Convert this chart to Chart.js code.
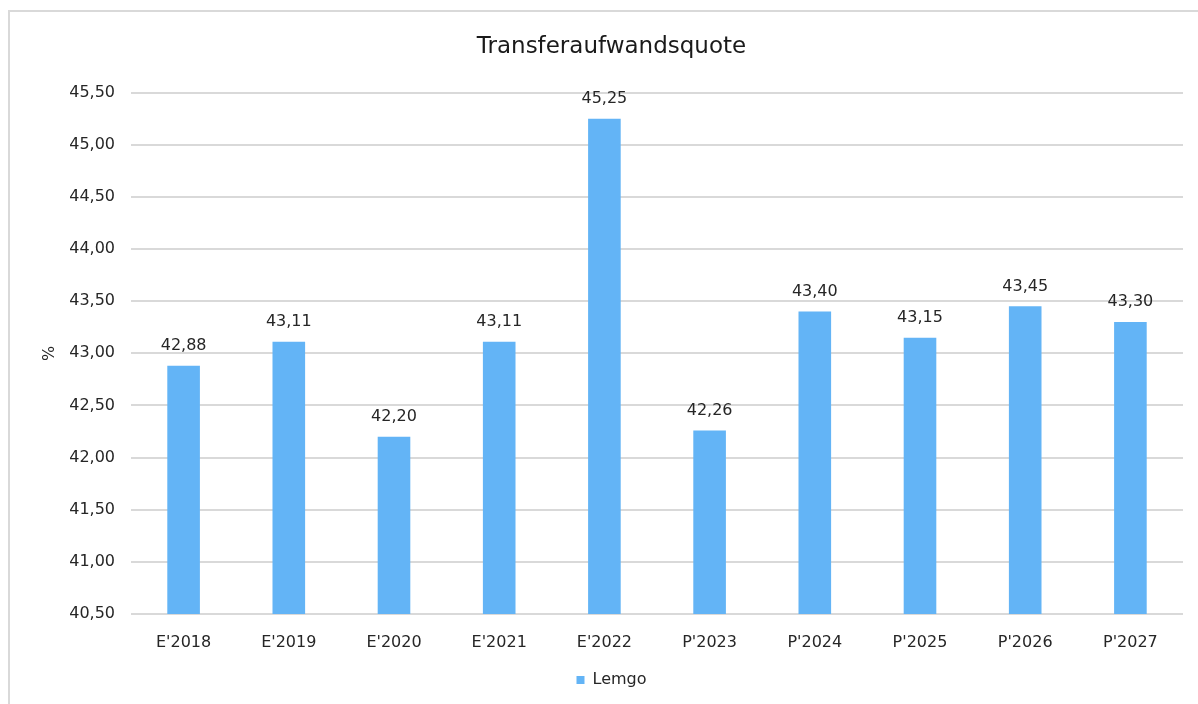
<!DOCTYPE html>
<html>
<head>
<meta charset="utf-8">
<script src="https://cdn.jsdelivr.net/npm/chart.js@4/dist/chart.umd.min.js"></script>
<style>
  html, body { margin: 0; padding: 0; background: #fff; overflow: hidden; }
  #frame { position: absolute; left: 8px; top: 10px; width: 1200px; height: 720px; border: 2px solid #d9d9d9; }
  #wrap { position: absolute; left: 0; top: 0; width: 1198px; height: 704px; }
</style>
</head>
<body>
<div id="frame"></div>
<div id="wrap"><canvas id="chart" width="1198" height="704"></canvas></div>
<script>
const categories = ["E'2018", "E'2019", "E'2020", "E'2021", "E'2022", "P'2023", "P'2024", "P'2025", "P'2026", "P'2027"];
const lemgo = [42.88, 43.11, 42.20, 43.11, 45.25, 42.26, 43.40, 43.15, 43.45, 43.30];
const yMin = 40.5;
const yMax = 45.5;
const yStep = 0.5;

const fmt = v => v.toFixed(2).replace(".", ",");

// value labels above the bars
const barLabels = {
  id: "barLabels",
  afterDatasetsDraw(chart) {
    const ctx = chart.ctx;
    ctx.save();
    ctx.font = "16px 'DejaVu Sans'";
    ctx.fillStyle = "#262626";
    ctx.textAlign = "center";
    ctx.textBaseline = "middle";
    chart.getDatasetMeta(0).data.forEach((bar, i) => {
      ctx.fillText(fmt(lemgo[i]), bar.x, bar.y - 20);
    });
    ctx.restore();
  }
};

Chart.defaults.font.family = "'DejaVu Sans'";
Chart.defaults.font.size = 16;
Chart.defaults.color = "#404040";

new Chart(document.getElementById("chart"), {
  type: "bar",
  data: {
    labels: categories,
    datasets: [{
      label: "Lemgo",
      data: lemgo,
      backgroundColor: "#63b4f6",
      borderWidth: 0,
      categoryPercentage: 1.0,
      barPercentage: 0.31
    }]
  },
  options: {
    responsive: false,
    animation: false,
    layout: { padding: { left: 40, right: 15, top: 0, bottom: 6 } },
    plugins: {
      title: {
        display: true,
        text: "Transferaufwandsquote",
        color: "#1a1a1a",
        font: { size: 23, weight: "normal" },
        padding: { top: 33, bottom: 32 }
      },
      legend: {
        position: "bottom",
        labels: { boxWidth: 8, boxHeight: 8, padding: 10, color: "#262626" }
      },
      tooltip: { enabled: false }
    },
    scales: {
      x: {
        grid: { display: false },
        border: { display: false },
        ticks: { padding: 11, color: "#262626", maxRotation: 0 },
        afterFit(scale) { scale.height = 48; }
      },
      y: {
        min: yMin,
        max: yMax,
        border: { display: false },
        grid: { color: "#d9d9d9", lineWidth: 2, drawTicks: false },
        ticks: { stepSize: yStep, padding: 16, color: "#262626", callback: v => fmt(v) },
        title: { display: true, text: "%", color: "#262626", padding: 0 },
        afterFit(scale) { scale.width = 91; }
      }
    }
  },
  plugins: [barLabels]
});
</script>
</body>
</html>
